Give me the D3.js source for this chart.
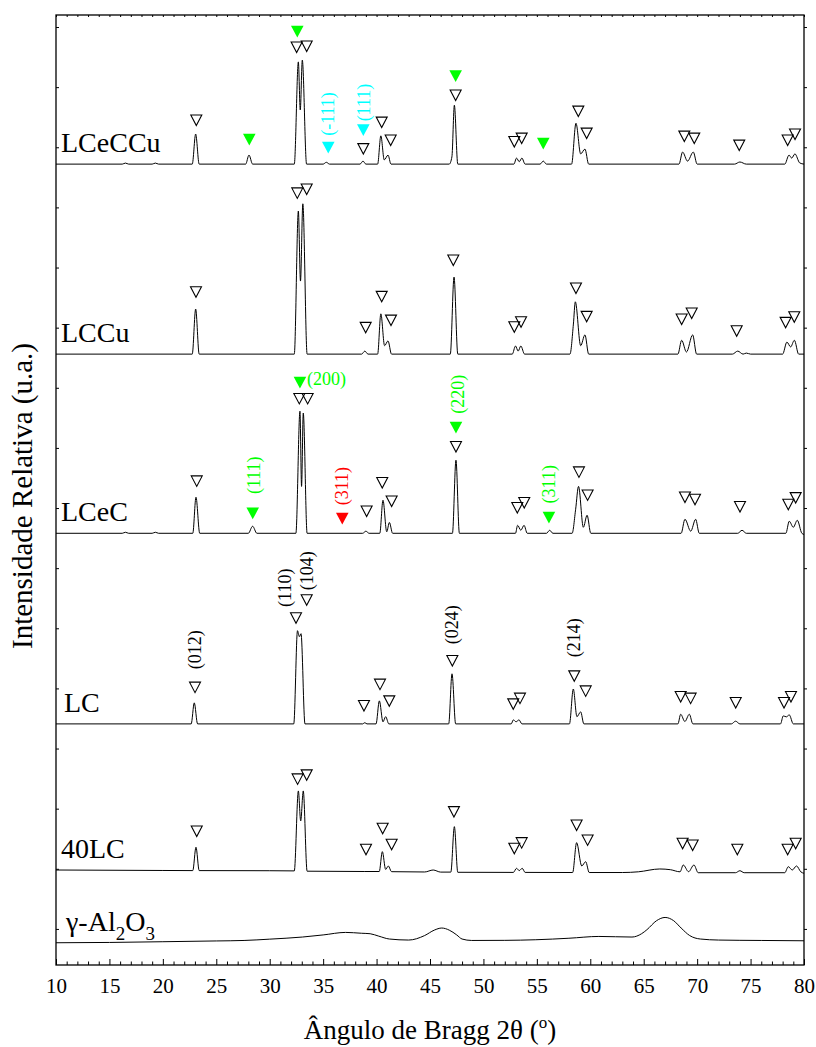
<!DOCTYPE html>
<html><head><meta charset="utf-8">
<script src="https://cdn.jsdelivr.net/npm/d3@7"></script>
<style>body{margin:0;background:#fff} text{font-family:"Liberation Serif","Times New Roman",serif}</style>
</head><body><svg id="c" width="816" height="1047"></svg>
<script>
// ---------- data ----------
const sampleNames = ["LCeCCu","LCCu","LCeC","LC","40LC","γ-Al2O3"];
const offsets = [12720, 9560, 6580, 3410, 980, -230];
const xMajorTicks = [10,15,20,25,30,35,40,45,50,55,60,65,70,75,80];
const yTicks = [0,1000,2000,3000,4000,5000,6000,7000,8000,9000,10000,11000,12000,13000,14000,15000];

const patLCeCCu = [[10,0],[16.2,0],[16.5,17],[16.8,0],[19.0,0],[19.3,17],[19.6,0],[22.75,0],[23.07,500],[23.4,0],[27.75,0],[28.06,150],[28.4,0],[32.3,0],[32.68,1700],[32.86,900],[33.05,1730],[33.45,0],[35.0,0],[35.3,30],[35.6,0],[38.45,0],[38.73,50],[39.0,0],[40.1,0],[40.4,470],[40.72,70],[41.07,150],[41.35,0],[46.8,0],[47.05,120],[47.28,980],[47.6,0],[52.85,0],[53.1,100],[53.35,40],[53.6,100],[53.9,0],[55.3,0],[55.6,50],[55.9,0],[58.25,0],[58.66,680],[59.1,170],[59.5,250],[59.85,0],[68.3,0],[68.64,200],[69.1,50],[69.64,200],[70.0,0],[73.5,0],[74.0,35],[74.6,0],[78.2,0],[78.6,150],[78.85,100],[79.15,170],[79.6,20],[80,0]];
const patLCCu = [[10,0],[22.75,0],[23.07,750],[23.4,0],[32.3,0],[32.68,2380],[32.88,1215],[33.1,2500],[33.5,0],[38.6,0],[38.9,50],[39.2,0],[40.1,0],[40.4,670],[40.75,140],[41.07,220],[41.4,0],[46.9,0],[47.25,1280],[47.6,0],[52.7,0],[53.0,135],[53.25,50],[53.5,135],[53.85,0],[58.1,0],[58.42,500],[58.6,870],[59.1,140],[59.5,320],[59.85,0],[68.2,0],[68.55,230],[69.0,35],[69.58,320],[69.95,0],[73.3,0],[73.8,50],[74.3,0],[74.6,17],[75.0,0],[78.0,0],[78.4,200],[78.75,120],[79.1,230],[79.5,0],[80,0]];
const patLCeC = [[10,0],[16.2,0],[16.5,17],[16.8,0],[19.0,0],[19.3,17],[19.6,0],[22.8,0],[23.1,600],[23.45,0],[28.0,0],[28.4,117],[28.8,0],[32.45,0],[32.83,2030],[32.98,780],[33.14,2000],[33.5,0],[38.7,0],[39.0,35],[39.3,0],[40.3,0],[40.6,550],[40.95,25],[41.2,180],[41.5,0],[47.1,0],[47.43,1215],[47.75,0],[53.0,0],[53.2,133],[53.5,50],[53.8,133],[54.1,0],[55.9,0],[56.2,50],[56.5,0],[58.3,0],[58.63,400],[58.9,780],[59.35,100],[59.7,300],[60.05,0],[68.5,0],[68.86,233],[69.4,35],[69.86,233],[70.2,0],[73.8,0],[74.2,50],[74.6,0],[78.3,0],[78.62,200],[79.0,100],[79.37,216],[79.8,0],[80,-20]];
const patLC = [[10,0],[22.65,0],[22.94,350],[23.25,0],[32.25,0],[32.6,1550],[32.78,1450],[32.93,1500],[33.3,0],[38.7,0],[38.9,20],[39.1,0],[39.95,0],[40.26,383],[40.6,35],[40.85,120],[41.15,0],[46.75,0],[47.06,833],[47.4,0],[52.6,0],[52.8,67],[53.05,35],[53.33,67],[53.6,0],[58.05,0],[58.41,580],[58.75,120],[59.1,200],[59.4,0],[68.2,0],[68.46,160],[68.85,40],[69.27,160],[69.6,0],[73.2,0],[73.6,45],[74.0,0],[77.8,0],[78.06,133],[78.35,117],[78.62,150],[79.0,0],[80,0]];
const pat40LC = [[10,0],[20,-8],[22.8,-10],[23.1,378],[23.4,-10],[30,-12],[32.3,-15],[32.68,1315],[32.9,816],[33.14,1315],[33.5,-20],[38.9,-25],[40.25,-25],[40.54,305],[40.85,10],[41.1,67],[41.4,-28],[44.5,-33],[45.3,0],[46.0,-35],[46.95,-35],[47.28,721],[47.6,-38],[52.8,-40],[53.1,28],[53.35,-10],[53.63,28],[53.9,-40],[58.35,-42],[58.72,455],[59.2,67],[59.57,138],[59.9,-42],[63,-42],[64.5,-30],[66.5,17],[67.5,5],[68.4,-30],[68.7,83],[69.2,-28],[69.7,83],[70.1,-45],[73.6,-45],[74.0,-12],[74.4,-45],[78.2,-45],[78.53,55],[78.9,0],[79.3,67],[79.7,-30],[80,-55]];
const patAl2O3 = [[10,0],[15,5],[20,17],[25,30],[27.6,38],[30,60],[33.06,95],[35,130],[37.1,172],[38.6,158],[39.4,150],[40.2,110],[41.2,62],[43.0,45],[44.5,120],[45.4,210],[46.1,245],[46.8,210],[47.5,130],[48.0,62],[48.9,38],[52,40],[54.9,50],[58,75],[60.8,105],[63.9,95],[64.8,150],[65.3,217],[66.2,367],[67.0,421],[67.8,367],[68.5,245],[69.3,120],[70.3,62],[72,45],[76,38],[80,33]];
const patterns = [patLCeCCu, patLCCu, patLCeC, patLC, pat40LC, patAl2O3];

// peak markers: [phase, 2theta, height above pattern baseline]
const marksLCeCCu = [["LaCoO3",23.13,733],["CeO2",28.09,408],["CeO2",32.58,2206],["LaCoO3",32.52,1948],["LaCoO3",33.46,1965],["CuO",35.48,275],["CuO",38.76,566],["LaCoO3",38.76,258],["LaCoO3",40.48,699],["LaCoO3",41.32,400],["CeO2",47.40,1465],["LaCoO3",47.40,1149],["LaCoO3",52.89,375],["LaCoO3",53.58,433],["CeO2",55.6,341],["LaCoO3",58.88,882],["LaCoO3",59.66,516],["LaCoO3",68.80,466],["LaCoO3",69.73,433],["LaCoO3",73.94,316],["LaCoO3",78.47,400],["LaCoO3",79.16,500]];
const marksLCCu = [["LaCoO3",23.10,1037],["LaCoO3",32.58,2681],["LaCoO3",33.46,2747],["LaCoO3",38.98,445],["LaCoO3",40.48,961],["LaCoO3",41.35,566],["LaCoO3",47.18,1565],["LaCoO3",52.89,455],["LaCoO3",53.52,538],["LaCoO3",58.66,1099],["LaCoO3",59.66,628],["LaCoO3",68.55,583],["LaCoO3",69.49,683],["LaCoO3",73.70,388],["LaCoO3",78.28,528],["LaCoO3",79.09,621]];
const marksLCeC = [["LaCoO3",23.17,871],["CeO2",28.41,333],["CeO2",32.83,2509],["LaCoO3",32.77,2243],["LaCoO3",33.55,2243],["Co3O4",36.79,245],["LaCoO3",39.07,371],["LaCoO3",40.53,844],["LaCoO3",41.41,538],["CeO2",47.43,1760],["LaCoO3",47.43,1444],["LaCoO3",53.17,428],["LaCoO3",53.82,511],["CeO2",56.13,261],["LaCoO3",58.94,1021],["LaCoO3",59.75,638],["LaCoO3",68.86,604],["LaCoO3",69.80,566],["LaCoO3",74.01,445],["LaCoO3",78.53,483],["LaCoO3",79.22,594]];
const marksLC = [["LaCoO3",23.01,611],["LaCoO3",32.46,1765],["LaCoO3",33.46,2065],["LaCoO3",38.82,305],["LaCoO3",40.32,661],["LaCoO3",41.19,383],["LaCoO3",47.09,1054],["LaCoO3",52.79,333],["LaCoO3",53.42,428],["LaCoO3",58.50,799],["LaCoO3",59.57,549],["LaCoO3",68.46,455],["LaCoO3",69.39,428],["LaCoO3",73.61,355],["LaCoO3",78.13,355],["LaCoO3",78.78,455]];
const marks40LC = [["LaCoO3",23.17,649],["LaCoO3",32.61,1515],["LaCoO3",33.46,1582],["LaCoO3",39.01,345],["LaCoO3",40.57,694],["LaCoO3",41.41,428],["LaCoO3",47.24,971],["LaCoO3",52.89,361],["LaCoO3",53.58,455],["LaCoO3",58.72,749],["LaCoO3",59.75,500],["LaCoO3",68.64,445],["LaCoO3",69.58,416],["LaCoO3",73.76,345],["LaCoO3",78.47,345],["LaCoO3",79.22,445]];
const marks = [marksLCeCCu, marksLCCu, marksLCeC, marksLC, marks40LC, []];

// hkl labels: [text, phase, 2theta, height above baseline, orientation]
const hklLCeCCu = [["(-111)","CuO",35.45,833,"v"],["(111)","CuO",38.82,1024,"v"]];
const hklLCeC = [["(111)","CeO2",28.55,966,"v"],["(200)","CeO2",33.49,2564,"h"],["(311)","Co3O4",36.76,783,"v"],["(220)","CeO2",47.62,2314,"v"],["(311)","CeO2",56.13,816,"v"]];
const hklLC = [["(012)","LaCoO3",23.01,1232,"v"],["(110)","LaCoO3",31.43,2264,"v"],["(104)","LaCoO3",33.46,2547,"v"],["(024)","LaCoO3",47.06,1648,"v"],["(214)","LaCoO3",58.50,1432,"v"]];
const hkls = [hklLCeCCu, [], hklLCeC, hklLC, [], []];

// ---------- drawing ----------
const phaseColor = {LaCoO3:"#000", CeO2:"#00ff00", CuO:"#00ffff", Co3O4:"#ff0000"};
const svg = d3.select("#c");
const L = 56, R = 804, T = 15, B = 965;
const x = d3.scaleLinear().domain([10,80]).range([L,R]);
const y = d3.scaleLinear().domain([-600,15200]).range([B,T]);

const xMinor = d3.range(10,81,1).filter(v=>!xMajorTicks.includes(v));

// axes
const gB = svg.append("g").attr("transform",`translate(0,${B})`);
gB.call(d3.axisBottom(x).tickValues(xMajorTicks).tickSize(-6).tickPadding(13).tickFormat(d3.format("d")));
gB.append("g").call(d3.axisBottom(x).tickValues(xMinor).tickSize(-3.5).tickFormat(""));
const gT = svg.append("g").attr("transform",`translate(0,${T})`);
gT.call(d3.axisTop(x).tickValues(xMajorTicks.concat(xMinor)).tickSize(-2).tickFormat(""));
const gL = svg.append("g").attr("transform",`translate(${L},0)`);
gL.call(d3.axisLeft(y).tickValues(yTicks).tickSize(-3).tickFormat(""));
const gR = svg.append("g").attr("transform",`translate(${R},0)`);
gR.call(d3.axisRight(y).tickValues(yTicks).tickSize(3).tickFormat(""));
svg.selectAll(".domain").remove();
svg.selectAll(".tick line").attr("stroke","#000").attr("stroke-width",1);
gB.selectAll(".tick text").attr("font-size",21).attr("fill","#000").attr("font-family","Liberation Serif");
svg.append("rect").attr("x",L).attr("y",T).attr("width",R-L).attr("height",B-T)
  .attr("fill","none").attr("stroke","#000").attr("stroke-width",1.3);

// curves
const line = d3.line().curve(d3.curveMonotoneX);
patterns.forEach((p,i)=>{
  svg.append("path")
    .attr("d", line(p.map(d=>[x(d[0]), y(d[1]+offsets[i])])))
    .attr("fill","none").attr("stroke","#000").attr("stroke-width",1);
});

// markers
const triOpen = "M-5.5,-5 L5.5,-5 L0,5.5 Z";
const triFill = "M-6.3,-5.8 L6.3,-5.8 L0,6 Z";
marks.forEach((m,i)=>{
  m.forEach(d=>{
    const open = d[0]==="LaCoO3";
    svg.append("path").attr("d", open?triOpen:triFill)
      .attr("transform",`translate(${x(d[1])},${y(d[2]+offsets[i])})`)
      .attr("fill", open?"#fff":phaseColor[d[0]])
      .attr("fill-opacity", open?0:1)
      .attr("stroke", open?"#000":"none").attr("stroke-width",1.1);
  });
});

// hkl labels
hkls.forEach((h,i)=>{
  h.forEach(d=>{
    const px = x(d[2]), py = y(d[3]+offsets[i]);
    const t = svg.append("text").text(d[0]).attr("font-size",18).attr("fill",phaseColor[d[1]]);
    if(d[4]==="v"){
      t.attr("transform",`translate(${px},${py}) rotate(-90)`).attr("text-anchor","middle").attr("dy","0.33em");
    } else {
      t.attr("x",px).attr("y",py).attr("dy","0.33em").attr("text-anchor","start");
    }
  });
});

// sample labels
sampleNames.forEach((n,i)=>{
  const t = svg.append("text").attr("x", i===3?64:(i===5?66:61)).attr("y", y(offsets[i])-12)
    .attr("font-size",28).attr("fill","#000");
  if(n==="γ-Al2O3"){
    t.append("tspan").text("γ-Al");
    t.append("tspan").text("2").attr("font-size",19).attr("dy",9);
    t.append("tspan").text("O").attr("dy",-9);
    t.append("tspan").text("3").attr("font-size",19).attr("dy",9);
  } else t.text(n);
});

// axis titles
const xt = svg.append("text").attr("x",(L+R)/2).attr("y",1039).attr("text-anchor","middle").attr("font-size",27);
xt.append("tspan").text("Ângulo de Bragg 2θ (");
xt.append("tspan").text("o").attr("font-size",17).attr("dy",-11);
xt.append("tspan").text(")").attr("dy",11);
svg.append("text").attr("transform","translate(32,496) rotate(-90)").attr("text-anchor","middle")
  .attr("font-size",29).text("Intensidade Relativa (u.a.)");
</script></body></html>
